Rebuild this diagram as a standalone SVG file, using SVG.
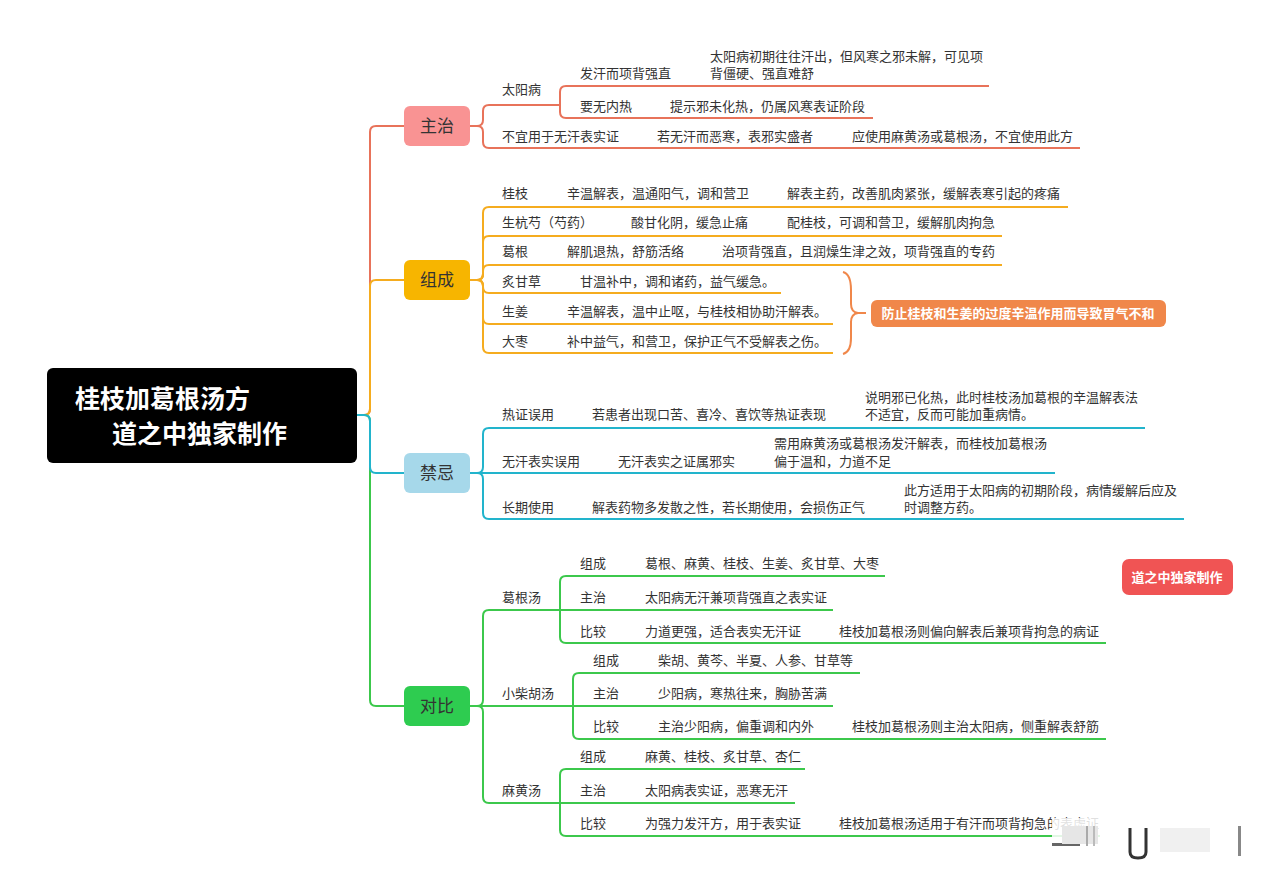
<svg xmlns="http://www.w3.org/2000/svg" width="1280" height="883" viewBox="0 0 1280 883">
<style>
.t{font-family:"Noto Sans CJK SC","Noto Sans",sans-serif;font-size:13px;fill:#333}
.n{font-family:"Noto Sans CJK SC","Noto Sans",sans-serif;font-size:17px;fill:#333;text-anchor:middle}
.ttl{font-family:"Noto Sans CJK SC","Noto Sans",sans-serif;font-size:25px;font-weight:bold;fill:#fff}
.w{font-family:"Noto Sans CJK SC","Noto Sans",sans-serif;font-size:13px;font-weight:bold;fill:#fff;text-anchor:middle}
.r{fill:none;stroke:#e8735a;stroke-width:2}
.o{fill:none;stroke:#f5ac1f;stroke-width:2}
.b{fill:none;stroke:#22b4cc;stroke-width:2}
.g{fill:none;stroke:#3cc84c;stroke-width:2}
.br{fill:none;stroke:#f0874a;stroke-width:2}
</style>
<rect width="1280" height="883" fill="#fff"/>

<g id="connectors">
  <path class="r" d="M357,415 H364 Q370,415 370,409 V132 Q370,126 376,126 H404"/>
  <path class="o" d="M357,415 H364 Q370,415 370,409 V286 Q370,280 376,280 H404"/>
  <path class="g" d="M357,415 H364 Q370,415 370,421 V700 Q370,706 376,706 H404"/>
  <path class="b" d="M357,415 H364 Q370,415 370,421 V467 Q370,473 376,473 H404"/>

  <path class="r" d="M470,126 H477 Q483,126 483,120 V111 Q483,105 489,105 H560"/>
  <path class="r" d="M470,126 H477 Q483,126 483,132 V142 Q483,148 489,148 H1080"/>
  <path class="r" d="M560,105 V92 Q560,86 566,86 H989"/>
  <path class="r" d="M560,105 V112 Q560,118 566,118 H873"/>

  <path class="o" d="M470,280 H477 Q483,280 483,274 V213 Q483,207 489,207 H1068"/>
  <path class="o" d="M470,280 H477 Q483,280 483,274 V242 Q483,236 489,236 H1002"/>
  <path class="o" d="M470,280 H477 Q483,280 483,274 V271 Q483,265 489,265 H1002"/>
  <path class="o" d="M470,280 H477 Q483,280 483,286 V287 Q483,293 489,293 H781"/>
  <path class="o" d="M470,280 H477 Q483,280 483,286 V318 Q483,324 489,324 H833"/>
  <path class="o" d="M470,280 H477 Q483,280 483,286 V347 Q483,353 489,353 H833"/>
  <path class="br" d="M843,272 Q851,274 851,290 V304 Q851,312 858,313 Q851,314 851,322 V338 Q851,352 843,354"/>
  <path class="br" d="M858,313 H866"/>

  <path class="b" d="M470,473 H477 Q483,473 483,467 V434 Q483,428 489,428 H1145"/>
  <path class="b" d="M470,473 H1055"/>
  <path class="b" d="M470,473 H477 Q483,473 483,479 V513 Q483,519 489,519 H1184"/>

  <path class="g" d="M470,706 H477 Q483,706 483,700 V616 Q483,610 489,610 H560"/>
  <path class="g" d="M470,706 H573"/>
  <path class="g" d="M470,706 H477 Q483,706 483,712 V797 Q483,803 489,803 H560"/>
  <path class="g" d="M560,610 V582 Q560,576 566,576 H885"/>
  <path class="g" d="M560,610 H833"/>
  <path class="g" d="M560,610 V637 Q560,643 566,643 H1106"/>
  <path class="g" d="M573,706 V679 Q573,673 579,673 H860"/>
  <path class="g" d="M573,706 H833"/>
  <path class="g" d="M573,706 V733 Q573,739 579,739 H1106"/>
  <path class="g" d="M560,803 V775 Q560,769 566,769 H805"/>
  <path class="g" d="M560,803 H795"/>
  <path class="g" d="M560,803 V830 Q560,836 566,836 H1100"/>
</g>

<g id="root">
  <rect x="47" y="368" width="310" height="95" rx="6" fill="#000"/>
  <text class="ttl" x="75" y="408">桂枝加葛根汤方</text>
  <text class="ttl" x="112" y="443">道之中独家制作</text>
</g>

<g id="zhuzhi">
  <rect x="404" y="106" width="66" height="40" rx="6" fill="#f99393"/>
  <text class="n" x="437" y="132">主治</text>
  <text class="t" x="502" y="94">太阳病</text>
  <text class="t" x="580" y="78">发汗而项背强直</text>
  <text class="t" x="710" y="61">太阳病初期往往汗出，但风寒之邪未解，可见项</text>
  <text class="t" x="710" y="78">背僵硬、强直难舒</text>
  <text class="t" x="580" y="111">要无内热</text>
  <text class="t" x="670" y="111">提示邪未化热，仍属风寒表证阶段</text>
  <text class="t" x="502" y="141">不宜用于无汗表实证</text>
  <text class="t" x="657" y="141">若无汗而恶寒，表邪实盛者</text>
  <text class="t" x="852" y="141">应使用麻黄汤或葛根汤，不宜使用此方</text>
</g>

<g id="zucheng">
  <rect x="404" y="260" width="66" height="40" rx="6" fill="#f7b500"/>
  <text class="n" x="437" y="286">组成</text>
  <text class="t" x="502" y="198">桂枝</text>
  <text class="t" x="567" y="198">辛温解表，温通阳气，调和营卫</text>
  <text class="t" x="787" y="198">解表主药，改善肌肉紧张，缓解表寒引起的疼痛</text>
  <text class="t" x="502" y="227">生杭芍（芍药）</text>
  <text class="t" x="631" y="227">酸甘化阴，缓急止痛</text>
  <text class="t" x="787" y="227">配桂枝，可调和营卫，缓解肌肉拘急</text>
  <text class="t" x="502" y="256">葛根</text>
  <text class="t" x="567" y="256">解肌退热，舒筋活络</text>
  <text class="t" x="722" y="256">治项背强直，且润燥生津之效，项背强直的专药</text>
  <text class="t" x="502" y="286">炙甘草</text>
  <text class="t" x="580" y="286">甘温补中，调和诸药，益气缓急。</text>
  <text class="t" x="502" y="316">生姜</text>
  <text class="t" x="567" y="316">辛温解表，温中止呕，与桂枝相协助汗解表。</text>
  <text class="t" x="502" y="346">大枣</text>
  <text class="t" x="567" y="346">补中益气，和营卫，保护正气不受解表之伤。</text>
</g>

<g id="summary">
  <rect x="871" y="300" width="295" height="27" rx="6" fill="#f0874a"/>
  <text class="w" x="1018" y="318">防止桂枝和生姜的过度辛温作用而导致胃气不和</text>
</g>

<g id="jinji">
  <rect x="404" y="453" width="66" height="40" rx="6" fill="#a6d8ea"/>
  <text class="n" x="437" y="479">禁忌</text>
  <text class="t" x="502" y="419">热证误用</text>
  <text class="t" x="592" y="419">若患者出现口苦、喜冷、喜饮等热证表现</text>
  <text class="t" x="865" y="402">说明邪已化热，此时桂枝汤加葛根的辛温解表法</text>
  <text class="t" x="865" y="419">不适宜，反而可能加重病情。</text>
  <text class="t" x="502" y="466">无汗表实误用</text>
  <text class="t" x="618" y="466">无汗表实之证属邪实</text>
  <text class="t" x="774" y="448">需用麻黄汤或葛根汤发汗解表，而桂枝加葛根汤</text>
  <text class="t" x="774" y="466">偏于温和，力道不足</text>
  <text class="t" x="502" y="512">长期使用</text>
  <text class="t" x="592" y="512">解表药物多发散之性，若长期使用，会损伤正气</text>
  <text class="t" x="904" y="495">此方适用于太阳病的初期阶段，病情缓解后应及</text>
  <text class="t" x="904" y="512">时调整方药。</text>
</g>

<g id="duibi">
  <rect x="404" y="686" width="66" height="40" rx="6" fill="#2ecc50"/>
  <text class="n" x="437" y="712">对比</text>
  <text class="t" x="502" y="602">葛根汤</text>
  <text class="t" x="580" y="568">组成</text>
  <text class="t" x="645" y="568">葛根、麻黄、桂枝、生姜、炙甘草、大枣</text>
  <text class="t" x="580" y="602">主治</text>
  <text class="t" x="645" y="602">太阳病无汗兼项背强直之表实证</text>
  <text class="t" x="580" y="636">比较</text>
  <text class="t" x="645" y="636">力道更强，适合表实无汗证</text>
  <text class="t" x="839" y="636">桂枝加葛根汤则偏向解表后兼项背拘急的病证</text>
  <text class="t" x="502" y="698">小柴胡汤</text>
  <text class="t" x="593" y="665">组成</text>
  <text class="t" x="658" y="665">柴胡、黄芩、半夏、人参、甘草等</text>
  <text class="t" x="593" y="698">主治</text>
  <text class="t" x="658" y="698">少阳病，寒热往来，胸胁苦满</text>
  <text class="t" x="593" y="731">比较</text>
  <text class="t" x="658" y="731">主治少阳病，偏重调和内外</text>
  <text class="t" x="852" y="731">桂枝加葛根汤则主治太阳病，侧重解表舒筋</text>
  <text class="t" x="502" y="795">麻黄汤</text>
  <text class="t" x="580" y="761">组成</text>
  <text class="t" x="645" y="761">麻黄、桂枝、炙甘草、杏仁</text>
  <text class="t" x="580" y="795">主治</text>
  <text class="t" x="645" y="795">太阳病表实证，恶寒无汗</text>
  <text class="t" x="580" y="828">比较</text>
  <text class="t" x="645" y="828">为强力发汗方，用于表实证</text>
  <text class="t" x="839" y="828">桂枝加葛根汤适用于有汗而项背拘急的表虚证</text>
</g>

<g id="watermark">
  <rect x="1122" y="559" width="111" height="36" rx="7" fill="#f05454"/>
  <text class="w" x="1177" y="582">道之中独家制作</text>
</g>

<g id="smudge">
  <rect x="1052" y="818" width="195" height="42" fill="#fff" opacity="0.85"/>
  <rect x="1052" y="843" width="28" height="3" fill="#666"/>
  <rect x="1062" y="826" width="36" height="18" fill="#e6e6e6"/>
  <rect x="1086" y="826" width="2" height="20" fill="#aaa"/>
  <rect x="1093" y="826" width="2" height="20" fill="#bbb"/>
  <path d="M1130,828 V852 Q1130,858 1138,858 Q1146,858 1146,852 V828" fill="none" stroke="#333" stroke-width="3"/>
  <rect x="1160" y="828" width="50" height="24" fill="#f0f0f0"/>
  <rect x="1238" y="826" width="3" height="30" fill="#888"/>
</g>
</svg>
